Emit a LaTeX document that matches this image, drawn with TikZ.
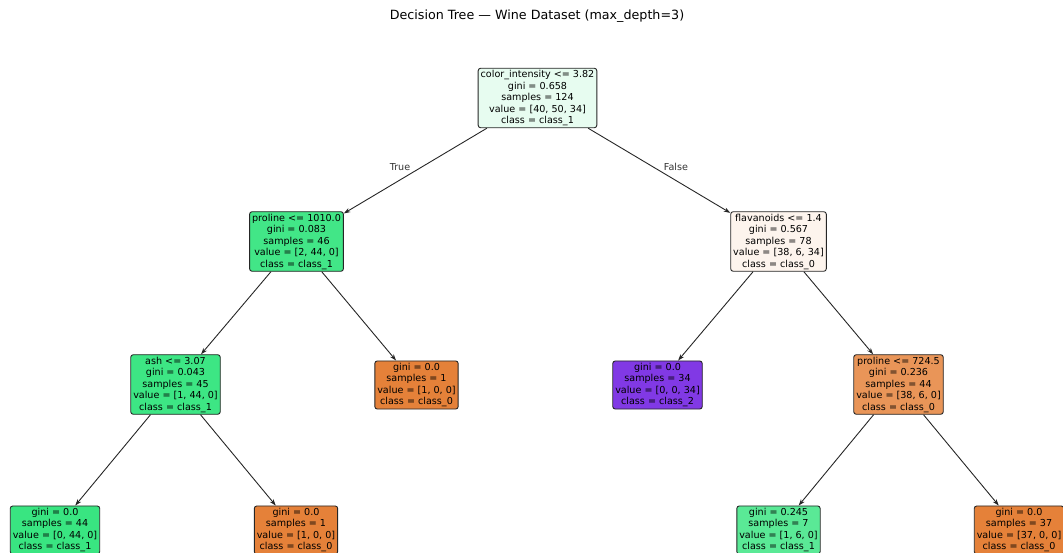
\documentclass[tikz,border=0pt]{standalone}
\usepackage{fontspec}
\setmainfont{DejaVu Sans}
\usetikzlibrary{arrows.meta}
\definecolor{rootfill}{RGB}{231,252,240}
\definecolor{profill}{RGB}{66,230,135}
\definecolor{flafill}{RGB}{253,244,237}
\definecolor{ashfill}{RGB}{61,230,132}
\definecolor{zerofill}{RGB}{229,129,57}
\definecolor{onefill}{RGB}{57,229,129}
\definecolor{twofill}{RGB}{129,57,229}
\definecolor{prbfill}{RGB}{233,149,88}
\definecolor{ginifill}{RGB}{90,233,150}
\begin{document}
\begin{tikzpicture}[x=1pt, y=-1pt, >={Stealth[length=6.5pt,width=4.5pt]},
  box/.style={draw=black!85, line width=0.9pt, rounded corners=2.5pt, align=center,
    inner xsep=2.5pt, inner ysep=2pt, font=\fontsize{9.6}{11.5}\selectfont},
  edge/.style={->, draw=black!85, line width=0.9pt},
  lbl/.style={font=\fontsize{9.6}{11.5}\selectfont, text=black!80}]
  \useasboundingbox (0,0) rectangle (1063,553);
  \clip (0,0) rectangle (1063,553);
  \node[font=\fontsize{12.7}{15}\selectfont] (title) at (537,16) {Decision Tree — Wine Dataset (max\_depth=3)};
  % depth 0 and 1
  \node[box, fill=rootfill] (root) at (537.5,98) {color\_intensity <= 3.82\\gini = 0.658\\samples = 124\\value = [40, 50, 34]\\class = class\_1};
  \node[box, fill=profill] (pro) at (296.5,241.5) {proline <= 1010.0\\gini = 0.083\\samples = 46\\value = [2, 44, 0]\\class = class\_1};
  \node[box, fill=flafill] (fla) at (778.5,241.5) {flavanoids <= 1.4\\gini = 0.567\\samples = 78\\value = [38, 6, 34]\\class = class\_0};
  % depth 2
  \node[box, fill=ashfill] (ash) at (175.5,384.5) {ash <= 3.07\\gini = 0.043\\samples = 45\\value = [1, 44, 0]\\class = class\_1};
  \node[box, fill=zerofill] (leafa) at (416.5,385) {gini = 0.0\\samples = 1\\value = [1, 0, 0]\\class = class\_0};
  \node[box, fill=twofill] (leafb) at (657.5,385) {gini = 0.0\\samples = 34\\value = [0, 0, 34]\\class = class\_2};
  \node[box, fill=prbfill] (prb) at (898.5,384.5) {proline <= 724.5\\gini = 0.236\\samples = 44\\value = [38, 6, 0]\\class = class\_0};
  % depth 3
  \node[box, fill=onefill] (leafc) at (55,530) {gini = 0.0\\samples = 44\\value = [0, 44, 0]\\class = class\_1};
  \node[box, fill=zerofill] (leafd) at (296,530) {gini = 0.0\\samples = 1\\value = [1, 0, 0]\\class = class\_0};
  \node[box, fill=ginifill] (leafe) at (778.5,530) {gini = 0.245\\samples = 7\\value = [1, 6, 0]\\class = class\_1};
  \node[box, fill=zerofill] (leaff) at (1019,530) {gini = 0.0\\samples = 37\\value = [37, 0, 0]\\class = class\_0};
  % connectors
  \draw[edge] (root) -- (pro);
  \draw[edge] (root) -- (fla);
  \draw[edge] (pro) -- (ash);
  \draw[edge] (pro) -- (leafa);
  \draw[edge] (fla) -- (leafb);
  \draw[edge] (fla) -- (prb);
  \draw[edge] (ash) -- (leafc);
  \draw[edge] (ash) -- (leafd);
  \draw[edge] (prb) -- (leafe);
  \draw[edge] (prb) -- (leaff);
  \node[lbl] (true) at (400,167) {True};
  \node[lbl] (false) at (676,167) {False};
\end{tikzpicture}
\end{document}
